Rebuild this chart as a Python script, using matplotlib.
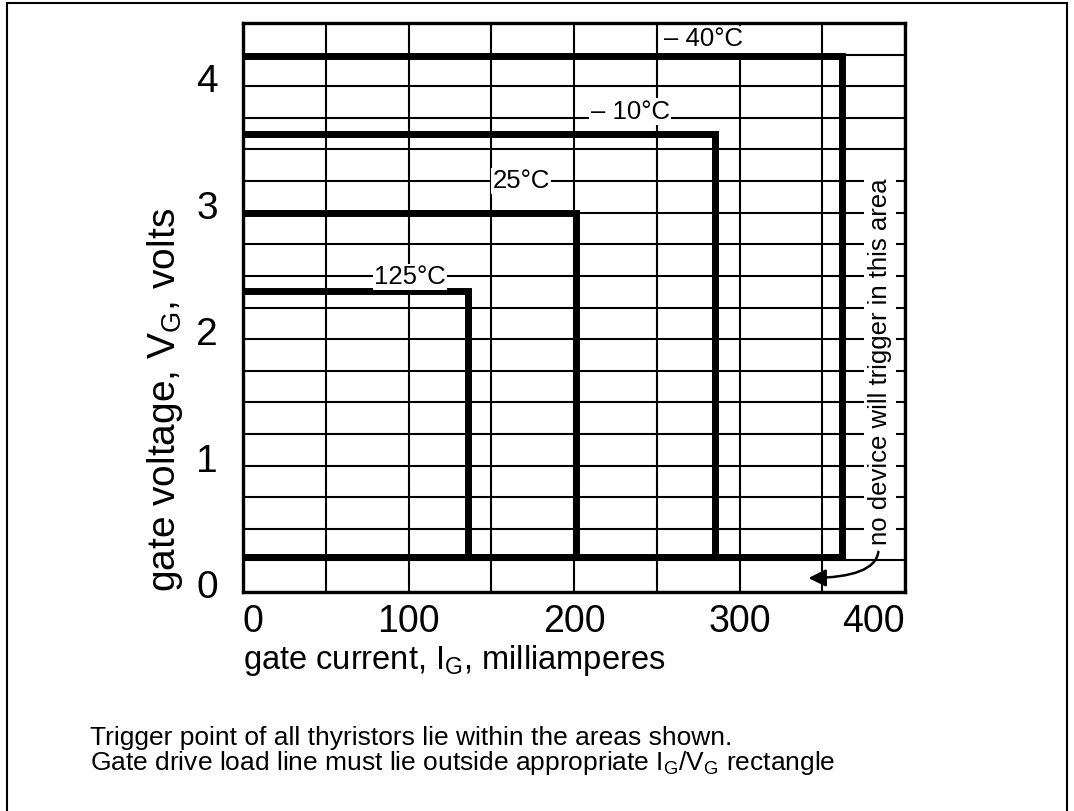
import matplotlib

matplotlib.use("Agg")
import matplotlib.pyplot as plt  # noqa: E402
import matplotlib.transforms as mtransforms  # noqa: E402
from matplotlib.patches import Rectangle  # noqa: E402

plt.rcParams["font.family"] = ["Liberation Sans", "DejaVu Sans"]
plt.rcParams["mathtext.default"] = "regular"

# trigger rectangles, one per junction temperature
temps = ["\u2013 40\u00b0C", "\u2013 10\u00b0C", "25\u00b0C", "125\u00b0C"]
ig_max = [362, 285, 201, 136]        # mA
vg_max = [4.24, 3.62, 3.0, 2.38]     # V
vg_min = 0.28                        # common bottom edge, V

# where each temperature label sits (mA, V)
label_x = [278, 234, 168, 101]
label_y = [4.37, 3.80, 3.25, 2.49]

# grid lines every 50 mA / 0.25 V, numbers only on some of them
x_grid = [0, 50, 100, 150, 200, 250, 300, 350, 400]
y_grid = [i * 0.25 for i in range(19)]
x_labels = {0: "0", 100: "100", 200: "200", 300: "300", 400: "400"}
y_labels = {0.0: "0", 1.0: "1", 2.0: "2", 3.0: "3", 4.0: "4"}

fig = plt.figure(figsize=(10.74, 8.11), dpi=100)

# outer frame around the whole figure
fig.patches.append(Rectangle((7 / 1074, -0.05), 1060 / 1074, 1.05 - 3 / 811,
                             transform=fig.transFigure, fill=False,
                             edgecolor="black", linewidth=1.5))

ax = fig.add_axes([243 / 1074, 1 - 592 / 811, 662 / 1074, 569 / 811])
ax.set_xlim(0, 400)
ax.set_ylim(0, 4.5)

ax.set_xticks(x_grid)
ax.set_xticklabels([x_labels.get(v, "") for v in x_grid])
ax.set_yticks(y_grid)
ax.set_yticklabels([y_labels.get(v, "") for v in y_grid])
ax.grid(color="black", linewidth=1.5, zorder=1)
ax.set_axisbelow(True)
for s in ax.spines.values():
    s.set_linewidth(2.4)

ax.tick_params(length=0, labelsize=28)
ax.tick_params(axis="x", pad=9, labelsize=27)
ax.tick_params(axis="y", pad=18)
xl = ax.get_xticklabels()
xl[0].set_ha("left")
xl[-1].set_ha("right")
up = mtransforms.ScaledTranslation(0, 8 / 100, fig.dpi_scale_trans)
for lab in ax.get_yticklabels():
    lab.set_transform(lab.get_transform() + up)

# the rectangles
ax.plot([0, ig_max[0]], [vg_min, vg_min], color="black", lw=5,
        solid_capstyle="projecting", zorder=3)
for i in range(len(temps)):
    ax.plot([0, ig_max[i], ig_max[i]], [vg_max[i], vg_max[i], vg_min],
            color="black", lw=5, solid_joinstyle="miter",
            solid_capstyle="projecting", zorder=3)
    ax.text(label_x[i], label_y[i], temps[i], fontsize=18.5, ha="center",
            va="center", zorder=4,
            bbox=dict(facecolor="white", edgecolor="none", pad=1))

ax.text(385, 1.82, "no device will trigger in this area", rotation=90,
        fontsize=18.5, ha="center", va="center", zorder=4,
        bbox=dict(facecolor="white", edgecolor="none", pad=3))
ax.annotate("", xy=(340, 0.11), xytext=(384, 0.34),
            arrowprops=dict(arrowstyle="-|>", color="black", lw=1.8,
                            mutation_scale=26,
                            connectionstyle="angle3,angleA=90,angleB=0"),
            zorder=5)

ax.set_xlabel("gate current, I$_G$, milliamperes", fontsize=23.5,
              loc="left", labelpad=2)
ax.set_ylabel("gate voltage, V$_G$, volts", fontsize=28, loc="bottom",
              labelpad=8)

fig.text(90 / 1074, 1 - 738 / 811,
         "Trigger point of all thyristors lie within the areas shown.",
         fontsize=19, va="center")
fig.text(90 / 1074, 1 - 763 / 811,
         "Gate drive load line must lie outside appropriate "
         "I$_G$/V$_G$ rectangle",
         fontsize=19, va="center")

fig.savefig("out.png", dpi=100)
